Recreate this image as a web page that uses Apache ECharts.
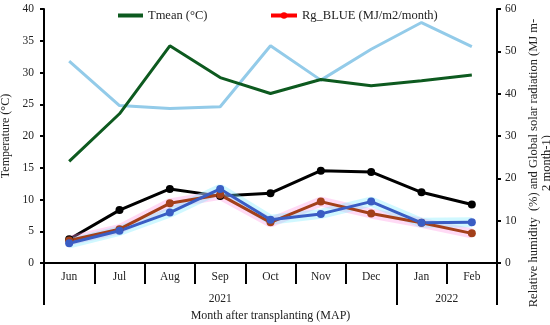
<!DOCTYPE html>
<html>
<head>
<meta charset="utf-8">
<script src="https://cdn.jsdelivr.net/npm/echarts@6/dist/echarts.min.js"></script>
<style>html,body{margin:0;padding:0;background:#fff}#c{width:550px;height:325px}</style>
</head>
<body>
<div id="c"></div>
<script>
const months = ['Jun','Jul','Aug','Sep','Oct','Nov','Dec','Jan','Feb'];
const yearLabels = ['2021','2022'];
const yearCenters = [3.5, 8];
const yearBounds = [0, 7, 9];
const tmean = [16.0, 23.5, 34.2, 29.2, 26.7, 28.9, 27.9, 28.7, 29.6];
const rh = [47.7, 37.2, 36.5, 36.9, 51.3, 43.2, 50.5, 56.8, 51.1];
const rgTotal = [5.6, 12.5, 17.5, 15.8, 16.5, 21.8, 21.5, 16.7, 13.8];
const rgRed = [5.3, 8.0, 14.1, 16.1, 9.6, 14.5, 11.7, 9.5, 7.0];
const rgBlue = [4.65, 7.6, 11.9, 17.5, 10.2, 11.6, 14.5, 9.5, 9.6];
const leftTicks = {min:0, max:40, interval:5};
const rightTicks = {min:0, max:60, interval:10};

const FONT = 'Liberation Serif';
const txt = {fontFamily: FONT, fontSize: 11.5, color: '#222'};
const chart = echarts.init(document.getElementById('c'));
chart.setOption({
  animation: false,
  grid: {left: 44, right: 53, top: 9, bottom: 62, containLabel: false, outerBoundsMode: 'none'},
  legend: [
    {data: [{name: 'Tmean (°C)', itemStyle: {opacity: 0}, lineStyle: {color: '#0d5a1f', width: 4, opacity: 1}}],
     left: 116, top: 9, padding: 0, itemWidth: 25, itemHeight: 8,
     textStyle: {fontFamily: FONT, fontSize: 12.5, color: '#222'}},
    {data: [{name: 'Rg_BLUE (MJ/m2/month)', itemStyle: {color: '#ff0000', opacity: 1},
             lineStyle: {color: '#ff0000', width: 4, opacity: 1}}],
     left: 269, top: 9, padding: 0, itemWidth: 26, itemHeight: 8,
     textStyle: {fontFamily: FONT, fontSize: 12.5, color: '#222'}}
  ],
  xAxis: [
    {type: 'category', data: months, boundaryGap: true,
     axisLine: {lineStyle: {color: '#000', width: 2}},
     axisTick: {show: true, interval: 0, length: 21, lineStyle: {color: '#000', width: 2}},
     axisLabel: Object.assign({margin: 8, interval: 0}, txt)},
    {type: 'value', min: 0, max: 9, position: 'bottom',
     axisLine: {show: false}, splitLine: {show: false},
     axisTick: {show: true, customValues: yearBounds, length: 42, lineStyle: {color: '#000', width: 2}},
     axisLabel: Object.assign({customValues: yearCenters, margin: 30,
       formatter: v => (v < 7 ? yearLabels[0] : yearLabels[1])}, txt),
     name: 'Month after transplanting (MAP)', nameLocation: 'middle', nameGap: 47,
     nameTextStyle: {fontFamily: FONT, fontSize: 12, color: '#222'}}
  ],
  yAxis: [
    {type: 'value', min: leftTicks.min, max: leftTicks.max, interval: leftTicks.interval,
     splitLine: {show: false},
     axisLine: {show: true, lineStyle: {color: '#000', width: 2}},
     axisTick: {show: true, length: 4, lineStyle: {color: '#000', width: 2}},
     axisLabel: Object.assign({margin: 10}, txt),
     name: 'Temperature (°C)', nameLocation: 'middle', nameGap: 27, nameRotate: 90,
     nameTextStyle: {fontFamily: FONT, fontSize: 12, color: '#222'}},
    {type: 'value', min: rightTicks.min, max: rightTicks.max, interval: rightTicks.interval,
     position: 'right', splitLine: {show: false},
     axisLine: {show: true, lineStyle: {color: '#000', width: 2}},
     axisTick: {show: true, length: 4, lineStyle: {color: '#000', width: 2}},
     axisLabel: Object.assign({margin: 8}, txt),
     name: 'Relative humidity  (%) and Global solar radiation (MJ m-\n2 month-1)',
     nameLocation: 'middle', nameGap: 26, nameRotate: 90,
     nameTextStyle: {fontFamily: FONT, fontSize: 12.5, color: '#222', lineHeight: 13, align: 'center',
       padding: [0, 54, 0, 0]}}
  ],
  series: [
    {name: 'RH', type: 'line', yAxisIndex: 1, data: rh, symbol: 'none',
     lineStyle: {color: '#93cbe9', width: 3}},
    {name: 'Tmean (°C)', type: 'line', yAxisIndex: 0, data: tmean, symbol: 'none',
     itemStyle: {color: '#0d5a1f'}, lineStyle: {color: '#0d5a1f', width: 3}},
    {name: 'Rg total', type: 'line', yAxisIndex: 1, data: rgTotal, symbol: 'circle', symbolSize: 8,
     itemStyle: {color: '#000'}, lineStyle: {color: '#000', width: 3}},
    {name: 'Rg_BLUE (MJ/m2/month)', type: 'line', yAxisIndex: 1, data: rgRed, symbol: 'circle', symbolSize: 8,
     itemStyle: {color: '#ff0000', opacity: 0},
     lineStyle: {color: 'rgba(255,150,225,0.35)', width: 10}},
    {name: 'cyan glow', type: 'line', yAxisIndex: 1, data: rgBlue, symbol: 'none',
     lineStyle: {color: 'rgba(120,235,255,0.35)', width: 10}},
    {name: 'Rg red', type: 'line', yAxisIndex: 1, data: rgRed, symbol: 'circle', symbolSize: 8,
     itemStyle: {color: '#a3401a'}, lineStyle: {color: '#a3401a', width: 3}},
    {name: 'Rg blue', type: 'line', yAxisIndex: 1, data: rgBlue, symbol: 'circle', symbolSize: 8,
     itemStyle: {color: '#3a5dc4'}, lineStyle: {color: '#3a5dc4', width: 3}}
  ]
});
</script>
</body>
</html>
